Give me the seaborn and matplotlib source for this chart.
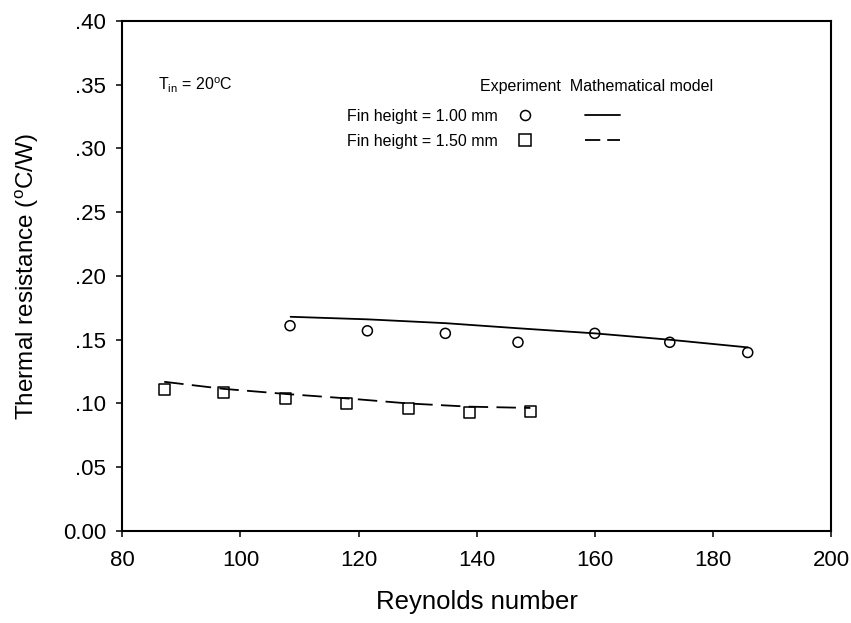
import numpy as np
import pandas as pd
import matplotlib
matplotlib.use("Agg")
import matplotlib.pyplot as plt
from matplotlib.lines import Line2D
import seaborn as sns

# Data
re_exp_100 = [108.4, 121.5, 134.7, 147.0, 160.0, 172.7, 185.9]
r_exp_100 = [0.161, 0.157, 0.155, 0.148, 0.155, 0.148, 0.140]
re_mod_100 = [108.5, 121.5, 134.7, 147.0, 160.0, 172.7, 185.9]
r_mod_100 = [0.168, 0.166, 0.163, 0.159, 0.155, 0.150, 0.144]

re_exp_150 = [87.1, 97.1, 107.6, 118.0, 128.5, 138.8, 149.1]
r_exp_150 = [0.111, 0.1085, 0.104, 0.100, 0.096, 0.093, 0.094]
re_mod_150 = [87.1, 97.1, 107.6, 118.0, 128.5, 138.8, 149.1]
r_mod_150 = [0.117, 0.1115, 0.1075, 0.104, 0.100, 0.0975, 0.0965]

xticks = [80, 100, 120, 140, 160, 180, 200]
yticks = [0.00, 0.05, 0.10, 0.15, 0.20, 0.25, 0.30, 0.35, 0.40]
ytick_labels = ['0.00', '.05', '.10', '.15', '.20', '.25', '.30', '.35', '.40']
series_labels = ['Fin height = 1.00 mm', 'Fin height = 1.50 mm']

sns.set_theme(style="ticks")
plt.rcParams['font.family'] = ['Liberation Sans', 'DejaVu Sans']
plt.rcParams['mathtext.fontset'] = 'custom'
plt.rcParams['mathtext.rm'] = 'Liberation Sans'
plt.rcParams['lines.scale_dashes'] = False
for key in ['text.color', 'axes.labelcolor', 'xtick.color', 'ytick.color', 'axes.edgecolor']:
    plt.rcParams[key] = 'black'

fig = plt.figure(figsize=(8.51, 6.23), dpi=100)
ax = fig.add_axes([0.1437, 0.1477, 0.8328, 0.8186])

dash = (0, (14, 6))
lw = 1.3

sns.lineplot(x=re_mod_100, y=r_mod_100, ax=ax, color='black', lw=lw,
             sort=False, estimator=None)
sns.lineplot(x=re_mod_150, y=r_mod_150, ax=ax, color='black', lw=lw,
             linestyle=dash, sort=False, estimator=None)
sns.scatterplot(x=re_exp_100, y=r_exp_100, ax=ax, marker='o', s=52,
                facecolor='none', edgecolor='black', linewidth=1.1, zorder=3)
sns.scatterplot(x=re_exp_150, y=r_exp_150, ax=ax, marker='s', s=64,
                facecolor='none', edgecolor='black', linewidth=1.1, zorder=3)

ax.set_xlim(80, 200)
ax.set_ylim(0, 0.40)
ax.set_xticks(xticks)
ax.set_xticklabels([str(v) for v in xticks])
ax.set_yticks(yticks)
ax.set_yticklabels(ytick_labels)
ax.tick_params(axis='both', direction='out', length=4.5, width=1.1,
               labelsize=16, colors='black', top=False, right=False)
ax.tick_params(axis='x', pad=9)
ax.tick_params(axis='y', pad=7)
for sp in ax.spines.values():
    sp.set_visible(True)
    sp.set_linewidth(1.5)
    sp.set_color('black')

ax.set_xlabel('Reynolds number', fontsize=18.5, labelpad=14)
ax.set_ylabel(r'Thermal resistance ($^{\mathregular{o}}$C/W)', fontsize=17.5, labelpad=16)

# annotation and legend
ax.text(0.050, 0.8745, r'T$_{\mathregular{in}}$ = 20$^{\mathregular{o}}$C',
        transform=ax.transAxes, fontsize=11.5, va='center', ha='left')
ax.text(0.5045, 0.871, 'Experiment  Mathematical model',
        transform=ax.transAxes, fontsize=11.5, va='center', ha='left')

handles = [
    Line2D([], [], marker='o', ls='none', mfc='none', mec='black', ms=7.2, mew=1.1),
    Line2D([], [], marker='s', ls='none', mfc='none', mec='black', ms=8, mew=1.1),
    Line2D([], [], color='black', lw=lw),
    Line2D([], [], color='black', lw=lw, linestyle=(0, (11, 5))),
]
labels = series_labels + ['', '']
ax.legend(handles, labels, ncol=2, markerfirst=False, frameon=False,
          loc='upper left', bbox_to_anchor=(0.3174, 0.8275), borderpad=0,
          borderaxespad=0, fontsize=11.5, handlelength=2.2, handletextpad=0.58,
          columnspacing=2.08, labelspacing=0.6)

fig.savefig('out.png', dpi=100)
